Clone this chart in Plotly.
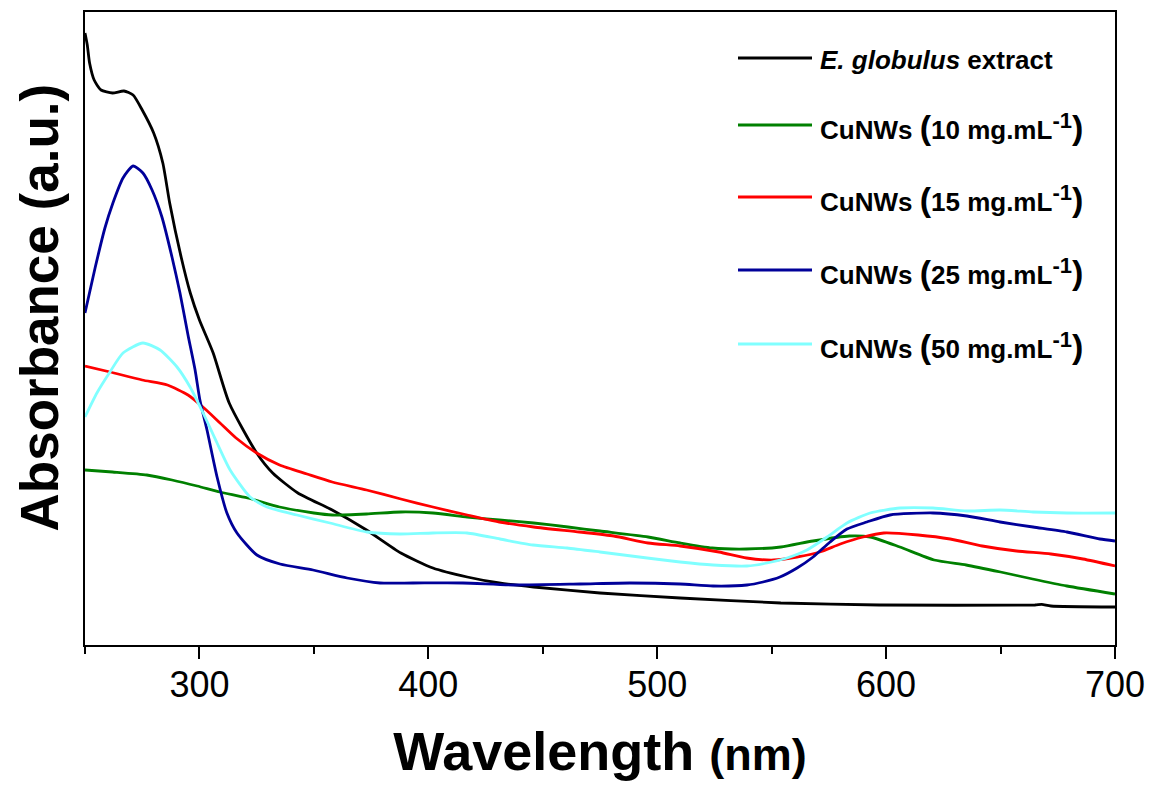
import plotly.graph_objects as go

# ---------------- data ----------------
wl_extract = [250, 251, 252, 254, 257, 262, 267, 271, 275, 280, 284, 287, 292, 296, 300, 306, 313,
              325, 332, 343, 358, 373, 388, 402, 417, 431, 446, 475, 510, 554, 597, 665, 668, 672, 700]
abs_extract = [3.06, 3.0, 2.91, 2.825, 2.775, 2.76, 2.77, 2.75, 2.675, 2.56, 2.41, 2.21, 1.94, 1.76, 1.625,
               1.46, 1.21, 0.96, 0.86, 0.76, 0.675, 0.575, 0.46, 0.385, 0.34, 0.31, 0.29, 0.26, 0.235,
               0.21, 0.20, 0.20, 0.203, 0.195, 0.19]

wl_10 = [250, 262, 277, 288, 299, 309, 321, 335, 350, 358, 373, 388, 402, 417, 431, 446, 461,
         475, 496, 510, 524, 539, 554, 568, 584, 593, 606, 621, 635, 650, 664, 679, 700]
abs_10 = [0.875, 0.865, 0.85, 0.825, 0.795, 0.765, 0.735, 0.69, 0.66, 0.65, 0.655, 0.665, 0.66, 0.64, 0.625,
          0.61, 0.59, 0.57, 0.54, 0.51, 0.485, 0.48, 0.49, 0.52, 0.545, 0.54, 0.49, 0.425, 0.40, 0.365,
          0.33, 0.295, 0.255]

wl_15 = [250, 261, 275, 286, 295, 302, 309, 316, 325, 335, 347, 358, 373, 388, 402, 417, 431, 446,
         466, 481, 496, 510, 527, 539, 551, 561, 571, 580, 590, 599, 614, 628, 642, 657, 672, 686, 700]
abs_15 = [1.395, 1.365, 1.325, 1.30, 1.25, 1.185, 1.11, 1.035, 0.96, 0.90, 0.855, 0.815, 0.775, 0.73,
          0.69, 0.65, 0.615, 0.59, 0.565, 0.545, 0.51, 0.495, 0.465, 0.435, 0.425, 0.44, 0.465, 0.505,
          0.54, 0.56, 0.55, 0.53, 0.495, 0.47, 0.455, 0.43, 0.395]

wl_25 = [250, 254.4, 258.7, 262.2, 266.6, 271, 275.3, 279.3, 283.6, 288, 291.5, 295, 298.1, 300.2, 303.3,
         307.7, 312, 316.4, 325.1, 335.2, 349.6, 364.5, 378.9, 393.3, 415.1, 437, 466.3, 488.1, 510,
         524.4, 539.2, 546.2, 553.6, 561.1, 568.1, 575.5, 582.9, 591.6, 601.7, 620.5, 635.3, 649.8,
         664.2, 679, 693.4, 700]
abs_25 = [1.66, 1.885, 2.085, 2.21, 2.335, 2.395, 2.36, 2.275, 2.14, 1.94, 1.76, 1.55, 1.375, 1.225, 1.075,
          0.84, 0.66, 0.56, 0.45, 0.405, 0.375, 0.335, 0.31, 0.31, 0.31, 0.30, 0.305, 0.31, 0.305,
          0.295, 0.30, 0.315, 0.34, 0.385, 0.44, 0.515, 0.58, 0.615, 0.65, 0.66, 0.645, 0.615,
          0.59, 0.565, 0.53, 0.52]

wl_50 = [250, 255.2, 260.9, 266.6, 275.3, 282.8, 290.2, 295.9, 301.6, 307.7, 313.4, 322.1, 329.5, 342.6,
         357, 373.2, 387.6, 402, 416.9, 431.3, 445.7, 460.6, 475, 495.6, 510, 524.4, 539.2, 548, 556.7,
         565.4, 574.2, 582.9, 593, 606.1, 620.5, 635.3, 649.8, 664.2, 679, 700]
abs_50 = [1.14, 1.26, 1.365, 1.46, 1.51, 1.475, 1.39, 1.29, 1.16, 1.01, 0.875, 0.74, 0.69, 0.65,
          0.61, 0.565, 0.555, 0.56, 0.56, 0.53, 0.50, 0.485, 0.465, 0.435, 0.415, 0.40, 0.395, 0.41, 0.435,
          0.475, 0.54, 0.61, 0.66, 0.685, 0.685, 0.67, 0.675, 0.665, 0.66, 0.66]

series_names = ["E. globulus extract", "CuNWs (10 mg.mL-1)", "CuNWs (15 mg.mL-1)",
                "CuNWs (25 mg.mL-1)", "CuNWs (50 mg.mL-1)"]
P_OPEN = "<span style='font-size:34px'>(</span>"
P_CLOSE = "<span style='font-size:34px'>)</span>"
SUP = "<sup><span style='font-size:22px'>-1</span></sup>"
legend_labels = ["<i>E. globulus</i> extract",
                 "CuNWs " + P_OPEN + "10 mg.mL" + SUP + P_CLOSE,
                 "CuNWs " + P_OPEN + "15 mg.mL" + SUP + P_CLOSE,
                 "CuNWs " + P_OPEN + "25 mg.mL" + SUP + P_CLOSE,
                 "CuNWs " + P_OPEN + "50 mg.mL" + SUP + P_CLOSE]
colors = ["#000000", "#008000", "#FF0000", "#000099", "#80FFFF"]
xticks = [300, 400, 500, 600, 700]

xs = [wl_extract, wl_10, wl_15, wl_25, wl_50]
ys = [abs_extract, abs_10, abs_15, abs_25, abs_50]

FONT = "Liberation Sans, Arial, Helvetica, sans-serif"

fig = go.Figure()
for x, y, c, n in zip(xs, ys, colors, series_names):
    fig.add_trace(go.Scatter(x=x, y=y, mode="lines", name=n,
                             line=dict(color=c, width=2.8, shape="spline", smoothing=0.6),
                             showlegend=False))

# The page body has an 8px default margin, so the figure is offset by 8px.
OFF = 8
L, T, Wp, Hp = 85 - OFF, 12 - OFF, 1030.0, 633.0
FIG_W, FIG_H = 1154 - OFF, 792 - OFF

def px(xp):  # page pixel -> paper x
    return (xp - 85) / Wp
def py(yp):  # page pixel -> paper y
    return (645 - yp) / Hp

leg_y = [58, 125, 197, 270, 344]
for yy, c, lab in zip(leg_y, colors, legend_labels):
    fig.add_shape(type="line", xref="paper", yref="paper",
                  x0=px(738), x1=px(812), y0=py(yy), y1=py(yy),
                  line=dict(color=c, width=2.8))
    fig.add_annotation(xref="paper", yref="paper", x=px(818), y=py(yy + 2),
                       xanchor="left", yanchor="middle", showarrow=False,
                       text="<b>" + lab + "</b>",
                       font=dict(family=FONT, size=26, color="black"))

# y-axis title (placed as in the reference, slightly above centre), box kept inside the figure
fig.add_annotation(xref="paper", yref="paper", x=px(OFF), y=py(308),
                   xanchor="left", yanchor="middle", showarrow=False, textangle=-90,
                   borderpad=0,
                   text="<b>Absorbance (a.u.)</b>",
                   font=dict(family=FONT, size=53, color="black"))

fig.update_layout(
    width=FIG_W, height=FIG_H,
    margin=dict(l=L, r=FIG_W - L - int(Wp), t=T, b=FIG_H - T - int(Hp), autoexpand=False),
    paper_bgcolor="white", plot_bgcolor="white",
    showlegend=False,
    font=dict(family=FONT, color="black"),
)
fig.update_xaxes(
    range=[250, 700], tickvals=xticks, ticktext=[str(t) for t in xticks],
    ticks="outside", ticklen=12, tickwidth=2, tickcolor="black",
    minor=dict(ticks="outside", ticklen=7, tickwidth=2, tickcolor="black",
               tick0=250, dtick=100, showgrid=False),
    ticklabelstandoff=-5,
    showline=True, linecolor="black", linewidth=2, mirror=True,
    showgrid=False, zeroline=False, automargin=False,
    tickfont=dict(family=FONT, size=36, color="black"),
    title=dict(text="<b>Wavelength <span style='font-size:45px'>(nm)</span></b>",
               font=dict(family=FONT, size=54, color="black"), standoff=28),
)
fig.update_yaxes(
    range=[0, 3.165], showticklabels=False, ticks="",
    showline=True, linecolor="black", linewidth=2, mirror=True,
    showgrid=False, zeroline=False, automargin=False,
)

fig.write_html("out.html")
